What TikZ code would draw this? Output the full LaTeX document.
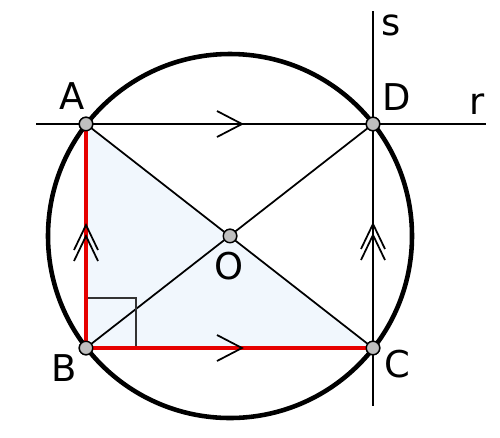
\documentclass[tikz,border=0pt]{standalone}
\usepackage{fontspec}
\setmainfont{DejaVu Sans}
\usetikzlibrary{positioning, arrows.meta}

\definecolor{paleblue}{RGB}{241,247,253}
\definecolor{redline}{RGB}{230,0,0}

\begin{document}
\begin{tikzpicture}[x=0.02cm, y=-0.02cm,
    pt/.style={draw=black, fill=black!25, circle, inner sep=0pt, minimum size=0.27cm, line width=0.8pt},
    lbl/.style={font=\fontsize{21}{25}\selectfont, text=black, inner sep=0pt},
    thinline/.style={draw=black, line width=1pt},
    redside/.style={draw=redline, line width=2.3pt},
    chev/.style={draw=black, line width=1pt}]

    \useasboundingbox (0,0) rectangle (500,437);

    % points
    \node[pt] (O) at (230,236) {};
    \node[pt] (A) at (86,124) {};
    \node[pt] (D) at (373,124) {};
    \node[pt] (B) at (86,348) {};
    \node[pt] (C) at (373,348) {};
    \coordinate (rl) at (36,124);
    \coordinate (rr) at (486,124);
    \coordinate (st) at (373,11);
    \coordinate (sb) at (373,406);

    % triangle ABC
    \fill[paleblue] (A.center) -- (B.center) -- (C.center) -- cycle;

    % lines r, s and the diagonals
    \draw[thinline] (rl) -- (rr);
    \draw[thinline] (st) -- (sb);
    \draw[thinline] (A.center) -- (C.center);
    \draw[thinline] (B.center) -- (D.center);

    % circle
    \draw[line width=2.6pt] (O.center) circle (182);

    % right angle at B
    \draw[draw=black!80, line width=1pt] (86,298) -| (136,348);

    % red sides
    \draw[redside] (A.center) -- (B.center) -- (C.center);

    % parallel marks
    \draw[chev] (217,111) -- (242,124) -- (217,137);
    \draw[chev] (217,335) -- (242,348) -- (217,361);
    \draw[chev] (74,250) -- (86,225) -- (98,250);
    \draw[chev] (74,261) -- (86,236) -- (98,261);
    \draw[chev] (361,249) -- (373,224) -- (385,249);
    \draw[chev] (361,260) -- (373,235) -- (385,260);

    % redraw points on top
    \foreach \p in {O,A,B,C,D}
        \node[pt] at (\p) {};

    % labels
    \node[lbl] (la) at (72,96) {A};
    \node[lbl] (ld) at (397,97) {D};
    \node[lbl] (lb) at (64,368) {B};
    \node[lbl] (lc) at (397,364) {C};
    \node[lbl] (lo) at (229,266) {O};
    \node[lbl] (lr) at (477,104) {r};
    \node[lbl] (ls) at (391,25) {s};
\end{tikzpicture}
\end{document}
